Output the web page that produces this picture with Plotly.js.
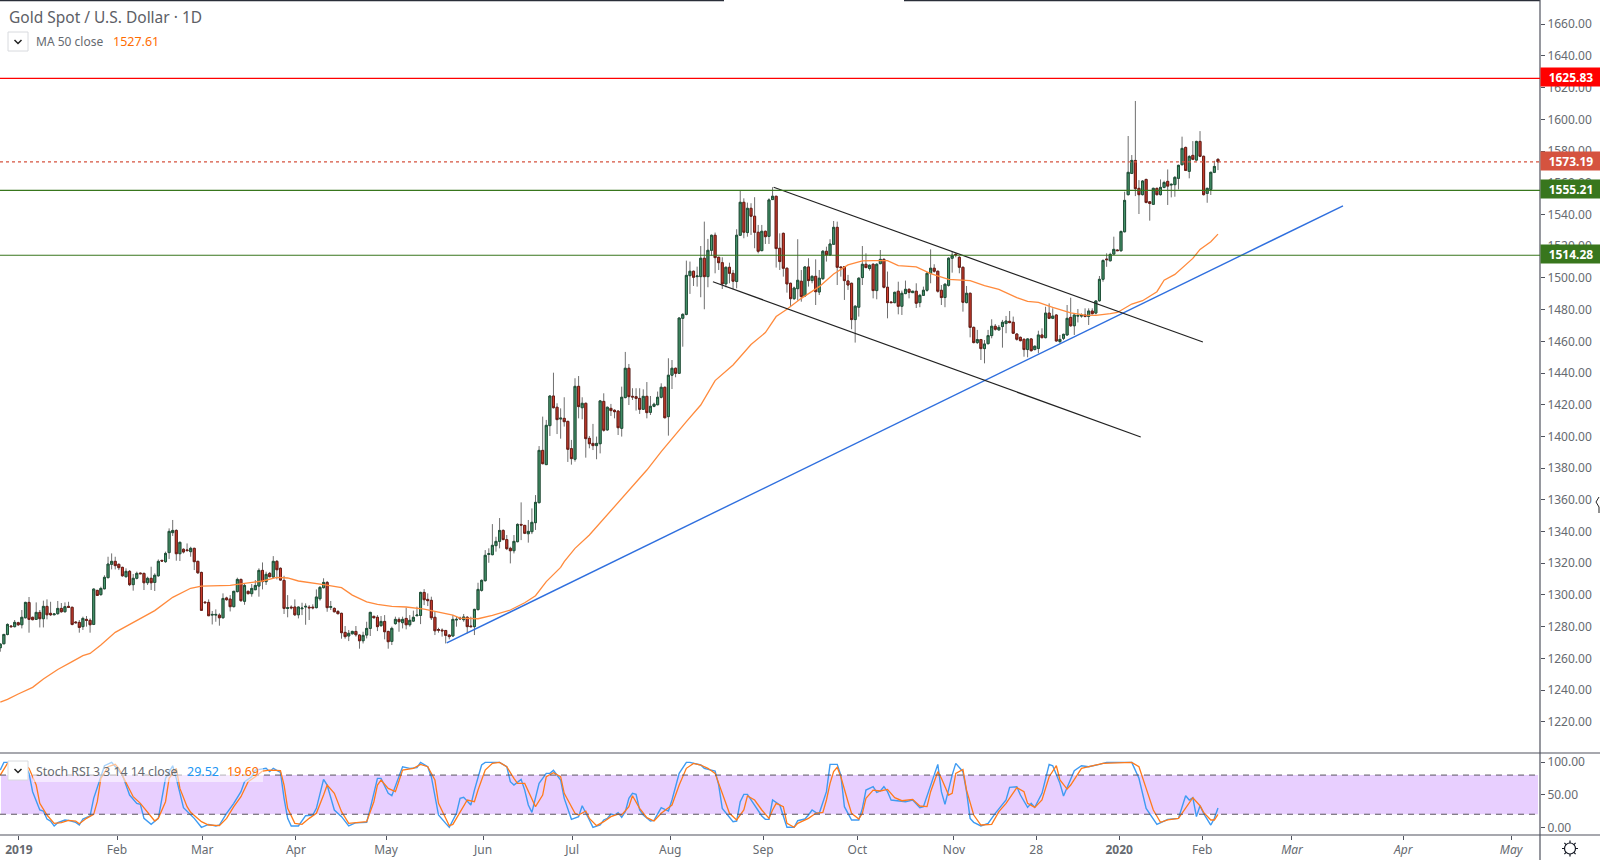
<!DOCTYPE html>
<html>
<head>
<meta charset="utf-8">
<script src="https://cdn.plot.ly/plotly-3.0.1.min.js"></script>
<style>
  html, body { margin: 0; padding: 0; background: #fff; }
  #chart { width: 1600px; height: 860px; }
</style>
</head>
<body>
<div id="chart"></div>
<script>
// daily candles, one entry per bar
const opens = [
  1266.7,1269.2,1275.1,1280.4,1280.0,1282.5,1281.2,1285.6,1295.3,1285.9,
  1284.6,1289.0,1285.0,1292.8,1288.4,1287.5,1288.2,1291.5,1289.4,1292.8,
  1292.2,1282.9,1282.7,1280.0,1284.6,1284.0,1281.4,1302.9,1300.2,1303.9,
  1310.9,1319.3,1321.2,1319.3,1317.4,1311.5,1314.9,1306.5,1310.5,1313.8,
  1313.6,1307.7,1310.5,1307.9,1312.1,1321.8,1321.0,1326.7,1339.3,1340.7,
  1326.0,1328.8,1328.4,1327.3,1329.4,1321.2,1314.2,1295.5,1295.3,1287.3,
  1287.3,1287.3,1285.6,1298.1,1297.4,1292.6,1302.1,1309.8,1296.0,1302.3,
  1300.8,1303.3,1305.6,1315.5,1308.4,1313.6,1311.3,1321.2,1316.8,1309.2,
  1291.5,1292.3,1292.4,1287.5,1291.3,1292.4,1292.3,1292.3,1292.0,1297.6,
  1304.6,1307.9,1292.2,1291.5,1289.6,1288.4,1276.4,1274.1,1275.5,1277.0,
  1274.7,1271.1,1274.7,1278.9,1286.5,1285.9,1280.6,1283.3,1277.0,1270.7,
  1281.9,1284.6,1282.5,1285.2,1281.2,1283.5,1286.9,1287.1,1301.6,1297.2,
  1296.6,1285.9,1278.2,1277.8,1277.6,1274.7,1274.1,1284.2,1285.4,1284.4,
  1285.9,1280.4,1280.0,1290.7,1302.9,1309.0,1325.6,1325.4,1331.1,1333.8,
  1340.7,1334.9,1329.4,1327.9,1333.6,1344.5,1343.9,1338.6,1339.9,1345.6,
  1358.2,1391.2,1382.2,1406.8,1425.5,1418.4,1411.0,1411.4,1409.5,1392.3,
  1385.6,1431.6,1418.1,1420.9,1398.8,1395.6,1394.2,1395.4,1422.1,1404.1,
  1417.7,1416.5,1416.0,1405.1,1424.5,1443.0,1425.3,1425.1,1424.0,1417.1,
  1425.3,1415.2,1419.0,1420.0,1424.7,1431.0,1412.5,1438.6,1443.0,1439.8,
  1474.5,1477.0,1501.4,1504.2,1500.8,1500.8,1512.4,1500.8,1517.4,1526.9,
  1513.0,1509.6,1496.2,1506.7,1502.9,1497.7,1526.9,1547.7,1528.6,1543.9,
  1538.9,1528.8,1517.2,1529.4,1526.2,1549.4,1551.5,1518.7,1528.1,1506.1,
  1496.6,1486.9,1493.2,1497.9,1488.6,1506.9,1498.3,1501.0,1491.1,1499.5,
  1516.8,1514.5,1521.2,1531.9,1506.9,1507.1,1498.1,1496.6,1473.7,1481.5,
  1500.2,1508.6,1505.9,1508.6,1492.0,1509.0,1511.7,1494.1,1484.8,1484.4,
  1491.6,1482.1,1490.1,1492.8,1490.7,1491.6,1484.4,1489.0,1492.2,1502.9,
  1506.1,1504.2,1492.2,1487.6,1495.3,1512.4,1514.9,1513.0,1506.7,1484.4,
  1490.3,1468.8,1459.2,1461.1,1455.4,1458.5,1463.6,1469.5,1467.2,1469.3,
  1471.2,1472.6,1472.0,1464.6,1462.5,1461.3,1454.8,1461.5,1454.8,1455.5,
  1464.0,1462.3,1477.8,1474.5,1476.6,1459.8,1461.9,1464.0,1475.1,1469.8,
  1475.9,1475.9,1476.6,1475.7,1479.1,1477.8,1485.6,1499.1,1511.9,1510.8,
  1515.0,1517.6,1517.1,1529.1,1552.5,1565.9,1574.1,1556.5,1552.5,1562.1,
  1548.0,1546.4,1556.5,1552.5,1557.1,1560.9,1558.6,1558.8,1562.8,1571.4,
  1582.3,1567.2,1577.3,1574.3,1586.1,1576.7,1553.3,1555.8,1566.6,1574.8
];
const highs = [
  1269.4,1275.3,1282.1,1281.0,1284.2,1283.1,1290.5,1295.7,1298.7,1286.3,
  1295.3,1290.5,1296.4,1297.2,1295.7,1288.2,1296.2,1294.9,1295.3,1295.7,
  1292.6,1283.5,1284.2,1286.3,1286.7,1285.2,1304.1,1303.1,1305.2,1312.4,
  1324.1,1326.2,1324.1,1319.9,1317.8,1316.8,1315.7,1313.2,1314.7,1314.0,
  1314.0,1311.5,1317.8,1313.6,1322.4,1322.2,1327.3,1342.0,1347.3,1341.4,
  1333.6,1329.4,1332.5,1330.4,1329.8,1321.6,1314.7,1295.7,1297.2,1289.9,
  1290.9,1288.4,1301.0,1298.9,1299.9,1302.5,1310.9,1310.3,1306.9,1302.7,
  1306.9,1309.4,1316.8,1320.5,1314.7,1314.5,1324.5,1322.0,1317.4,1312.1,
  1299.9,1293.4,1297.2,1292.6,1295.1,1294.7,1293.6,1294.1,1303.5,1305.6,
  1310.5,1308.8,1296.2,1292.2,1290.5,1288.8,1280.4,1277.9,1277.4,1280.4,
  1275.1,1276.8,1283.1,1289.4,1286.9,1287.3,1286.7,1287.3,1277.4,1280.0,
  1286.3,1285.9,1286.3,1292.0,1287.3,1290.1,1292.6,1302.0,1303.7,1301.0,
  1298.9,1289.4,1279.3,1278.9,1277.9,1275.1,1287.3,1286.3,1286.3,1288.0,
  1286.7,1286.3,1291.3,1307.7,1309.8,1328.3,1329.4,1344.7,1336.7,1348.5,
  1341.4,1337.8,1330.4,1337.8,1345.2,1358.4,1344.1,1347.3,1354.6,1363.0,
  1393.9,1412.5,1410.4,1425.9,1440.2,1420.9,1417.7,1424.7,1409.9,1397.8,
  1436.7,1438.1,1424.7,1421.3,1400.3,1407.9,1399.9,1423.0,1427.2,1418.8,
  1420.5,1417.1,1416.5,1431.4,1453.3,1445.7,1430.4,1430.4,1430.4,1429.7,
  1434.3,1425.5,1421.3,1428.3,1433.5,1431.4,1449.3,1448.2,1443.4,1475.1,
  1477.7,1510.9,1510.3,1504.6,1507.1,1520.1,1535.5,1524.6,1527.3,1528.6,
  1513.4,1513.0,1507.1,1509.6,1505.0,1530.7,1555.1,1550.2,1547.5,1547.1,
  1550.9,1533.4,1533.4,1529.8,1550.2,1557.2,1551.7,1528.1,1528.6,1506.5,
  1497.0,1494.5,1524.4,1505.0,1507.5,1512.4,1501.6,1511.7,1505.0,1517.6,
  1519.7,1524.4,1535.9,1535.5,1507.1,1507.5,1501.9,1497.0,1482.9,1500.4,
  1520.1,1515.5,1508.4,1509.2,1509.2,1517.6,1512.4,1504.0,1485.0,1491.3,
  1497.6,1492.0,1498.3,1493.4,1491.8,1496.6,1489.9,1494.5,1503.7,1518.0,
  1508.6,1504.6,1495.5,1496.6,1513.0,1516.6,1515.5,1513.8,1507.1,1494.9,
  1490.7,1469.3,1467.2,1461.5,1460.8,1467.2,1473.9,1470.9,1470.3,1473.5,
  1476.0,1479.1,1475.6,1465.1,1463.0,1461.7,1461.9,1461.9,1457.3,1466.7,
  1468.2,1481.8,1483.9,1480.8,1477.0,1464.0,1464.8,1482.9,1487.5,1477.0,
  1480.4,1477.6,1480.8,1480.8,1480.8,1486.0,1501.2,1511.7,1515.5,1515.9,
  1526.0,1517.8,1529.8,1554.4,1589.5,1577.5,1611.6,1561.7,1561.7,1562.6,
  1548.5,1556.9,1556.9,1562.1,1561.3,1568.4,1559.6,1564.2,1571.4,1589.1,
  1582.8,1577.5,1586.3,1586.5,1592.6,1577.1,1556.9,1567.0,1573.9,1575.4
];
const lows = [
  1264.2,1269.0,1274.5,1279.3,1279.5,1280.4,1278.9,1285.2,1276.2,1284.0,
  1284.2,1279.5,1279.5,1284.6,1286.7,1287.3,1287.5,1288.8,1289.0,1292.0,
  1280.8,1281.9,1276.2,1277.9,1280.0,1276.2,1281.0,1299.5,1299.5,1303.5,
  1310.5,1316.1,1316.1,1315.7,1311.5,1311.1,1305.6,1302.7,1309.8,1313.2,
  1303.1,1306.3,1303.1,1302.5,1311.5,1321.0,1320.3,1322.7,1337.2,1321.6,
  1321.4,1326.2,1327.3,1324.1,1315.7,1313.2,1289.9,1294.9,1286.7,1281.4,
  1283.1,1280.6,1285.2,1296.4,1289.6,1292.2,1301.6,1295.7,1293.8,1300.4,
  1298.9,1303.1,1298.9,1303.5,1306.3,1311.1,1310.9,1309.8,1309.0,1288.0,
  1285.9,1290.9,1286.7,1285.2,1287.3,1281.2,1284.2,1290.9,1291.5,1296.4,
  1304.1,1289.4,1290.5,1289.0,1287.7,1272.4,1272.4,1270.9,1275.1,1273.7,
  1266.1,1269.4,1272.6,1274.1,1285.2,1277.2,1280.0,1272.0,1266.1,1268.4,
  1281.2,1276.8,1278.9,1278.3,1280.0,1283.1,1286.7,1281.6,1293.6,1293.0,
  1284.2,1274.7,1276.2,1273.7,1269.4,1272.0,1273.7,1280.0,1284.2,1283.1,
  1275.8,1279.5,1274.7,1290.5,1302.1,1308.4,1320.3,1325.0,1327.3,1329.4,
  1334.6,1328.3,1319.9,1326.2,1333.2,1334.6,1338.4,1333.0,1338.4,1341.0,
  1357.8,1382.4,1382.0,1400.3,1417.7,1401.5,1398.6,1406.2,1383.9,1382.2,
  1384.1,1411.4,1410.8,1386.6,1392.5,1391.4,1385.6,1389.3,1403.0,1403.6,
  1412.9,1411.4,1400.9,1399.9,1424.0,1419.8,1423.0,1416.3,1414.2,1416.7,
  1411.4,1413.5,1418.4,1419.6,1424.0,1411.4,1400.5,1429.9,1437.3,1439.4,
  1456.6,1476.4,1489.9,1494.9,1494.5,1487.8,1480.2,1494.1,1513.9,1502.9,
  1505.0,1493.0,1494.1,1496.6,1492.8,1493.4,1526.5,1525.0,1526.0,1527.1,
  1518.7,1515.5,1516.8,1521.4,1521.4,1549.2,1506.5,1505.0,1500.8,1490.7,
  1482.3,1486.1,1485.7,1485.0,1488.2,1494.5,1496.6,1482.9,1489.2,1498.7,
  1510.3,1513.8,1520.8,1495.5,1500.8,1486.1,1492.4,1467.6,1459.2,1475.6,
  1495.5,1506.1,1504.6,1487.1,1486.5,1508.6,1493.4,1474.5,1484.2,1484.0,
  1477.0,1476.6,1489.7,1487.1,1490.5,1481.0,1481.5,1488.6,1491.3,1496.6,
  1503.3,1490.7,1482.9,1481.5,1494.5,1503.3,1513.0,1502.9,1478.7,1484.0,
  1462.5,1458.7,1458.3,1448.2,1446.1,1458.1,1461.9,1466.7,1466.7,1456.0,
  1465.1,1471.4,1464.6,1460.4,1460.0,1450.3,1449.9,1453.5,1454.3,1452.4,
  1461.9,1461.9,1474.0,1474.0,1459.8,1458.7,1460.8,1463.5,1469.2,1464.0,
  1471.9,1474.9,1475.1,1470.3,1477.0,1477.0,1485.0,1497.6,1507.0,1510.4,
  1514.6,1517.0,1516.7,1528.7,1552.0,1565.5,1551.6,1540.3,1552.0,1547.0,
  1536.1,1546.0,1552.0,1552.0,1556.5,1546.0,1550.8,1551.2,1555.8,1571.0,
  1567.4,1562.8,1574.3,1573.9,1576.2,1552.0,1547.4,1552.3,1566.1,1568.0
];
const closes = [
  1269.0,1275.1,1281.4,1280.0,1282.7,1281.2,1285.9,1295.3,1284.6,1284.4,
  1289.0,1285.0,1292.8,1287.5,1287.5,1288.0,1291.5,1289.4,1292.6,1292.2,
  1281.4,1282.5,1279.5,1285.2,1284.0,1281.2,1303.7,1299.7,1304.1,1311.1,
  1319.5,1321.2,1318.5,1317.2,1312.1,1314.9,1306.5,1310.5,1313.6,1313.4,
  1307.7,1310.5,1307.7,1312.4,1321.2,1321.4,1326.2,1340.1,1340.7,1326.0,
  1333.2,1327.1,1328.0,1329.4,1321.0,1314.0,1290.3,1295.1,1286.9,1287.7,
  1287.7,1285.6,1297.8,1297.0,1292.6,1302.3,1309.8,1296.4,1306.0,1300.8,
  1304.1,1306.0,1315.5,1308.4,1313.0,1311.5,1321.2,1315.9,1309.4,1291.5,
  1291.9,1291.9,1287.5,1292.4,1291.7,1292.8,1291.9,1291.9,1298.7,1304.8,
  1307.9,1292.0,1292.6,1289.4,1288.2,1276.2,1273.7,1275.8,1277.0,1274.9,
  1271.1,1274.5,1278.9,1289.0,1285.6,1280.0,1283.3,1276.8,1270.5,1278.9,
  1284.6,1283.1,1284.6,1281.2,1284.0,1285.9,1287.3,1301.6,1297.0,1296.4,
  1285.6,1277.4,1277.8,1277.4,1274.5,1273.7,1284.6,1284.6,1285.0,1286.1,
  1280.0,1280.0,1290.9,1303.5,1309.2,1325.0,1326.0,1331.3,1333.8,1340.7,
  1334.9,1329.2,1327.9,1333.8,1344.5,1344.1,1338.9,1340.1,1345.8,1358.4,
  1391.2,1382.8,1407.0,1425.5,1418.1,1410.6,1411.5,1409.3,1391.9,1386.0,
  1431.6,1418.8,1420.9,1398.6,1395.4,1394.2,1395.6,1422.4,1403.9,1418.4,
  1416.3,1415.6,1405.5,1424.7,1443.0,1425.1,1424.9,1424.0,1417.1,1425.3,
  1415.0,1419.0,1420.3,1424.7,1431.0,1411.8,1438.6,1443.0,1439.8,1474.7,
  1477.0,1501.6,1504.2,1500.4,1501.2,1512.4,1500.8,1517.4,1526.9,1512.8,
  1509.6,1496.2,1506.7,1502.9,1497.9,1526.9,1547.7,1528.8,1543.9,1538.9,
  1528.8,1516.8,1529.4,1526.0,1549.2,1551.5,1518.5,1510.3,1506.1,1496.2,
  1486.9,1493.6,1498.5,1488.2,1506.9,1498.3,1501.0,1491.3,1499.8,1516.8,
  1514.5,1521.4,1531.9,1506.7,1506.5,1498.3,1495.5,1473.7,1482.1,1499.8,
  1508.6,1506.5,1508.0,1492.0,1508.6,1511.7,1494.1,1484.4,1484.4,1490.9,
  1482.1,1490.3,1492.8,1490.9,1491.6,1484.0,1489.0,1492.2,1502.9,1506.1,
  1504.2,1491.6,1487.6,1496.0,1512.4,1514.3,1514.5,1506.7,1484.6,1490.3,
  1468.8,1459.2,1461.1,1455.4,1458.3,1463.6,1469.5,1467.6,1468.8,1472.0,
  1472.8,1471.8,1465.1,1461.3,1460.4,1454.8,1461.5,1454.1,1456.9,1464.0,
  1462.3,1477.8,1474.5,1475.9,1460.2,1461.2,1464.4,1474.5,1469.8,1476.6,
  1476.3,1476.3,1475.7,1479.1,1477.4,1485.4,1499.1,1511.0,1511.5,1514.8,
  1518.0,1517.2,1529.3,1548.9,1566.6,1574.1,1556.3,1552.5,1561.1,1547.6,
  1547.0,1556.5,1552.5,1557.1,1560.2,1557.9,1559.0,1563.4,1571.0,1581.7,
  1567.8,1576.6,1574.8,1586.1,1576.7,1552.5,1556.5,1566.6,1570.3,1573.19
];

// MA 50, read at the bars listed in maBars
const maBars = [0,2,5,9,12,16,20,23,25,28,32,37,43,48,53,56,59,64,68,73,77,80,83,86,90,95,98,102,105,109,113,118,122,126,128,133,137,142,146,149,152,156,157,160,164,180,184,187,191,195,199,204,206,209,213,216,219,223,228,232,236,240,243,247,250,255,259,264,270,274,278,283,286,289,293,298,302,305,309,311,315,318,322,324,327,332,334,337,339];
const maValues = [1232.4,1234.1,1237.5,1241.7,1247,1253,1257.9,1261.7,1263.1,1268.4,1276.4,1282.5,1290.1,1298.5,1304.2,1305.6,1305.6,1306,1307.3,1308.8,1311.1,1310.7,1308.8,1307.9,1306.5,1304.6,1299.9,1295.7,1294.1,1292.8,1292.4,1291.1,1289.4,1287.3,1285.4,1285,1287.1,1290.5,1295.1,1299.5,1308.4,1317.4,1321,1329.4,1337.8,1378.8,1390.4,1398.8,1409.3,1419.8,1435.2,1445.1,1450,1458,1465.5,1475.6,1480.2,1487.1,1494.5,1502.5,1508.2,1510.7,1510.9,1510.9,1507.7,1506.9,1502.7,1499.1,1498.3,1495.1,1492.8,1487.6,1485.2,1484.5,1481.4,1478,1476.5,1476.3,1477.4,1478.2,1483.5,1485.6,1491.3,1498.6,1502.2,1512.3,1518,1522.8,1527.61];

// Stoch RSI, turning points of each line
const kBars = [0,1,2,4,6,7,8,9,11,12,13,14,15,16,18,19,21,22,23,25,26,28,29,31,32,34,36,38,39,40,42,44,45,46,48,49,51,52,54,56,58,60,61,63,65,67,68,70,71,74,75,76,78,79,80,81,83,85,87,88,90,91,93,95,97,99,102,103,105,106,108,109,111,112,114,116,117,119,120,121,122,124,125,127,128,129,131,132,134,135,139,141,142,143,145,146,147,148,150,152,153,154,156,157,159,161,162,164,165,167,168,169,170,171,172,173,174,175,176,177,178,179,181,182,184,186,187,189,191,192,195,196,199,200,201,204,205,206,207,208,210,212,213,214,215,217,219,221,222,224,225,226,227,228,230,231,233,234,235,237,239,240,241,243,244,245,246,247,248,250,252,254,256,257,259,260,261,262,263,265,266,268,269,270,271,273,275,277,279,280,281,283,284,286,287,288,290,292,293,295,296,298,299,301,303,306,308,315,317,319,322,324,325,328,330,331,332,333,334,335,337,338,339];
const kValues = [87.7,99.4,99.4,99,98,95,82.6,54.5,26.5,25,12.7,9.6,1.9,7,11.2,10.6,7.6,3.5,12.7,17.3,44.3,77.5,94.3,99.4,92.8,80,49.4,36.7,35.1,13.7,4.5,13.7,44.3,75,94.3,75,30,24.9,13.7,0,4.5,2,3.5,21.4,36.7,54.5,69.8,77.5,87.7,90.3,85.2,90.3,84.1,44.3,13.7,2,2,17.8,18.8,29,73.4,64.7,26.5,16.3,2,7,7.6,29,75,75,52,48.4,80,92.8,90.3,91.3,99.4,92.8,77.5,49.4,18.8,6,0,21.4,44.3,45.9,34.1,57,95.4,99.4,99.4,92.8,69.8,64.7,73.4,57,34.1,22.9,67.3,82.6,82.6,87.2,72.4,44.3,12.2,16.3,33.1,11.2,0,3.5,11.2,13.7,20.3,18.8,22.4,15.2,23.9,44.3,52,50.4,26.5,18.8,9.6,10.6,30,24.9,41.8,82.6,99.4,99.4,95.4,90.3,86.2,64.7,29,8.6,9.6,39.2,50.4,50.4,34.1,17.3,12.2,12.2,41.8,34.1,0,0,10.1,12.7,18.8,26.5,22.9,21.4,54.5,96.4,96.4,80,31.6,11.2,11.2,29,57,62.2,53.5,55.6,62.2,54.5,41.8,40.7,39.2,41.8,30,31.6,64.7,82.6,96.4,54.5,35.1,80,97.9,85.2,54.5,13.7,7.6,2,6,21.4,34.1,41.8,61.2,62.2,49.4,30.5,36.7,30.5,52,96.4,94.3,67.3,47.9,75,86.7,94.3,92.8,96.4,99.4,99.4,75,29,4.5,9.6,12.2,13.7,48.4,41.8,45.3,16.3,33.1,21.4,3.5,13.7,29.52];
const dBars = [0,2,3,5,7,8,10,11,13,15,17,19,21,22,24,26,27,28,30,32,33,35,37,39,41,43,44,46,47,49,50,52,53,56,58,59,61,63,65,67,69,71,73,75,78,79,80,82,84,86,88,90,91,93,95,97,99,102,104,105,106,108,110,111,112,115,117,119,121,122,124,125,126,128,130,132,133,135,137,139,141,143,144,146,148,149,151,152,154,156,157,160,161,163,164,166,168,170,172,173,175,176,178,180,182,184,187,189,191,193,195,197,199,201,203,205,207,208,210,212,214,215,216,218,219,221,222,225,227,229,230,231,232,233,234,236,237,239,240,241,243,245,247,249,251,254,256,258,259,261,262,264,265,266,268,269,271,273,276,278,280,283,285,286,288,290,292,294,295,297,298,301,304,307,315,317,319,321,323,325,328,330,332,334,335,337,338,339];
const dValues = [80,98,99.4,99,95,90.3,64.7,36.7,18.8,6,7,10.6,9.6,5.5,13.7,19.8,39.2,75,92.8,96.4,90.3,69.8,46.9,36.7,23.9,9.6,13.7,39.2,75,90.3,59.6,31.6,22.9,8.6,3.5,3.5,2.5,13.7,31.6,46.9,69.8,77.5,86.2,87.7,86.7,64.7,29,6,4.5,13.7,21.4,49.4,64.7,52,23.9,6,7,8.6,39.2,64.7,72.4,59.6,54.5,69.8,87.7,90.3,96.4,92.8,72.4,36.7,13.7,2.5,4.5,23.9,41.8,39.2,57,87.7,97.9,99.4,92.8,75,67.3,67.3,44.3,31.6,49.4,77.5,83.6,77.5,52,21.4,18.8,24.9,13.7,2.5,8.6,16.3,20.3,18.8,31.6,48.4,29,14.7,9.6,21.4,34.1,64.7,90.3,97.9,95.4,90.3,82.6,52,21.4,11.2,26.5,47.9,41.8,26.5,13.7,26.5,36.7,31.6,6,0,6,13.7,21.4,22.9,41.8,67.3,85.2,91.8,77.5,39.2,21.4,12.7,21.4,44.3,57,55.6,58.1,45.3,40.7,42.8,32.6,31.6,54.5,85.2,75,49.4,52,82.6,88.7,57,18.8,3.5,4.5,23.9,36.7,60.7,54.5,36.7,30.5,41.8,77.5,94.3,72.4,58.6,64.7,90.3,93.8,97.9,99.4,92.8,59.6,26.5,7.6,11.2,13.7,29,45.3,33.1,22.9,11.2,11.2,19.69];

// drawn lines, in bars and price
const trendBars = [124.3, 373.8];
const trendPrices = [1269.7, 1545.5];
const channelTopBars = [215.3, 334.8];
const channelTopPrices = [1557.2, 1459.6];
const channelLowBars = [198.4, 317.5];
const channelLowPrices = [1497.6, 1399.6];

const levelPrices = [1625.83, 1573.19, 1555.21, 1514.28];
const levelColors = ["#ff0000", "#d5533f", "#38761d", "#38761d"];

const monthBars = [5.2,32.5,56.2,82.3,107.4,134.4,159.2,186.5,212.4,238.6,265.5,288.4,311.5,334.6,359.6,390.6,420.6];
const monthLabels = ["<b>2019</b>","Feb","Mar","Apr","May","Jun","Jul","Aug","Sep","Oct","Nov","28","<b>2020</b>","Feb","<i>Mar</i>","<i>Apr</i>","<i>May</i>"];
const priceTicks = [1220,1240,1260,1280,1300,1320,1340,1360,1380,1400,1420,1440,1460,1480,1500,1520,1540,1560,1580,1600,1620,1640,1660];
const stochTicks = [0, 50, 100];

const FONT = "Noto Sans, sans-serif";
const AXIS = "#50535e";
const TEXT = "#666a70";

// page pixels to paper coordinates (plot area is 1540 x 835)
const px = (x) => x / 1540;
const py = (y) => (835 - y) / 835;

const bars = opens.map((_, i) => i);

const wicks = {
  type: "candlestick",
  x: bars, open: opens, high: highs, low: lows, close: closes,
  xaxis: "x", yaxis: "y",
  increasing: { line: { color: "#6f6f6f", width: 1 }, fillcolor: "#4a9a70" },
  decreasing: { line: { color: "#6f6f6f", width: 1 }, fillcolor: "#cf3f2f" },
  whiskerwidth: 0,
  showlegend: false,
};
// second pass for the dark body outline, no wicks
const bodies = {
  type: "candlestick",
  x: bars, open: opens, close: closes,
  high: opens.map((o, i) => Math.max(o, closes[i])),
  low: opens.map((o, i) => Math.min(o, closes[i])),
  xaxis: "x", yaxis: "y",
  increasing: { line: { color: "#1f5138", width: 1 }, fillcolor: "#4a9a70" },
  decreasing: { line: { color: "#6b1d16", width: 1 }, fillcolor: "#cf3f2f" },
  whiskerwidth: 0,
  showlegend: false,
};

const line = (x, y, color, width, yaxis) => ({
  type: "scatter", mode: "lines", x, y,
  xaxis: "x", yaxis: yaxis || "y",
  line: { color, width },
  showlegend: false,
});

const traces = [
  wicks,
  bodies,
  line(maBars, maValues, "#ff8a3c", 1.3),
  line(trendBars, trendPrices, "#2f6fde", 1.4),
  line(channelTopBars, channelTopPrices, "#222222", 1.2),
  line(channelLowBars, channelLowPrices, "#222222", 1.2),
  line(kBars, kValues, "#3f9bf2", 1.4, "y2"),
  line(dBars, dValues, "#ff7a1a", 1.3, "y2"),
];

const paperLine = (x0, y0, x1, y1, color, width) => ({
  type: "line", xref: "paper", yref: "paper",
  x0: px(x0), x1: px(x1), y0: py(y0), y1: py(y1),
  line: { color, width },
});

const box = (x0, y0, x1, y1) => ({
  type: "rect", xref: "paper", yref: "paper",
  x0: px(x0), x1: px(x1), y0: py(y0), y1: py(y1),
  fillcolor: "#ffffff", line: { color: "#d8dade", width: 1 },
});

const chevron = (cx, cy) => ({
  type: "path", xref: "paper", yref: "paper",
  path: `M ${px(cx - 3.5)} ${py(cy - 1.5)} L ${px(cx)} ${py(cy + 2)} L ${px(cx + 3.5)} ${py(cy - 1.5)}`,
  line: { color: "#222222", width: 1.5 },
});

// settings icon at the bottom right corner
const GEAR_X = 1570, GEAR_Y = 848.5;
const gearPath = [[0, -8, 0, -5.5], [0, 5.5, 0, 8], [-8, 0, -5.5, 0], [5.5, 0, 8, 0],
  [-5.6, -5.6, -3.9, -3.9], [3.9, 3.9, 5.6, 5.6], [-5.6, 5.6, -3.9, 3.9], [3.9, -3.9, 5.6, -5.6]]
  .map(([a, b, c, d]) => `M ${px(GEAR_X + a)} ${py(GEAR_Y + b)} L ${px(GEAR_X + c)} ${py(GEAR_Y + d)}`)
  .join(" ");

const shapes = [
  // stoch band
  { type: "rect", xref: "paper", yref: "y2", x0: px(1), x1: px(1538), y0: 20, y1: 80,
    fillcolor: "#e8cfff", line: { width: 0 }, layer: "below" },
  { type: "line", xref: "paper", yref: "y2", x0: 0, x1: 1, y0: 80, y1: 80,
    line: { color: "#5a5560", width: 1, dash: "6px,5px" } },
  { type: "line", xref: "paper", yref: "y2", x0: 0, x1: 1, y0: 20, y1: 20,
    line: { color: "#5a5560", width: 1, dash: "6px,5px" } },
  // frame
  paperLine(0, 0.5, 724, 0.5, "#2a2e39", 1.5),
  paperLine(904, 0.5, 1540, 0.5, "#2a2e39", 1.5),
  paperLine(0, 753, 1600, 753, AXIS, 1.2),
  paperLine(0, 835, 1600, 835, AXIS, 1.2),
  paperLine(1540, 0, 1540, 860, AXIS, 1.2),
  // legend buttons and the pale strip behind the stoch text
  { type: "rect", xref: "paper", yref: "paper", x0: px(33), x1: px(263), y0: py(761), y1: py(782),
    fillcolor: "rgba(255,255,255,0.55)", line: { width: 0 } },
  box(8, 32, 28, 51),
  chevron(18, 41.5),
  box(8, 761, 28, 780),
  chevron(18, 770.5),
  // settings icon
  { type: "circle", xref: "paper", yref: "paper",
    x0: px(GEAR_X - 5.5), x1: px(GEAR_X + 5.5), y0: py(GEAR_Y + 5.5), y1: py(GEAR_Y - 5.5),
    line: { color: "#131722", width: 1.2 } },
  { type: "path", xref: "paper", yref: "paper", path: gearPath, line: { color: "#131722", width: 1.2 } },
  // mouse pointer left at the right edge of the price scale
  { type: "path", xref: "paper", yref: "paper",
    path: `M ${px(1599)} ${py(497)} L ${px(1596)} ${py(502)} L ${px(1599)} ${py(507)} L ${px(1599)} ${py(513)}`,
    line: { color: "#222222", width: 1 } },
];

levelPrices.forEach((price, i) => {
  shapes.push({
    type: "line", xref: "paper", yref: "y", x0: 0, x1: 1, y0: price, y1: price,
    line: { color: levelColors[i], width: 1.2, dash: i === 1 ? "dot" : "solid" },
  });
});

const label = (x, y, text, size, color) => ({
  xref: "paper", yref: "paper", x: px(x), y: py(y),
  xanchor: "left", yanchor: "middle",
  text, showarrow: false,
  font: { family: FONT, size, color },
});

const annotations = [
  label(7, 17, "Gold Spot / U.S. Dollar · 1D", 15.5, "#5d6066"),
  label(34, 41.5, "MA 50 close", 12, TEXT),
  label(111, 41.5, "1527.61", 12.5, "#ff6d00"),
  label(34, 771, "Stoch RSI 3 3 14 14 close", 12.3, TEXT),
  label(185, 771, "29.52", 12.5, "#2196f3"),
  label(225, 771, "19.69", 12.5, "#ff6d00"),
];

levelPrices.forEach((price, i) => {
  annotations.push({
    xref: "paper", yref: "y", x: 1, y: price, yshift: 1,
    xanchor: "left", yanchor: "middle",
    text: `<b>${price.toFixed(2)}</b>`,
    showarrow: false, width: 60, height: 18, align: "center",
    borderpad: 0, bgcolor: levelColors[i],
    font: { family: FONT, size: 12, color: "#ffffff" },
  });
});

const layout = {
  width: 1600,
  height: 860,
  margin: { l: 0, r: 60, t: 0, b: 25, pad: 0 },
  paper_bgcolor: "#ffffff",
  plot_bgcolor: "#ffffff",
  font: { family: FONT, size: 12, color: TEXT },
  showlegend: false,
  boxgap: 0.2,
  xaxis: {
    type: "linear",
    range: [-0.08, 428.65],
    anchor: "y2",
    rangeslider: { visible: false },
    showgrid: false,
    zeroline: false,
    showline: false,
    tickmode: "array",
    tickvals: monthBars,
    ticktext: monthLabels,
    ticks: "outside",
    ticklen: 4,
    tickcolor: AXIS,
    tickfont: { family: FONT, size: 12, color: TEXT },
  },
  yaxis: {
    domain: [82 / 835, 1],
    range: [1200.3, 1675.3],
    side: "right",
    anchor: "x",
    showgrid: false,
    zeroline: false,
    showline: false,
    tickmode: "array",
    tickvals: priceTicks,
    tickformat: ".2f",
    ticks: "outside",
    ticklen: 4,
    tickcolor: AXIS,
    tickfont: { family: FONT, size: 12, color: TEXT },
  },
  yaxis2: {
    domain: [0, 82 / 835],
    range: [-11.8, 113.8],
    side: "right",
    anchor: "x",
    showgrid: false,
    zeroline: false,
    showline: false,
    tickmode: "array",
    tickvals: stochTicks,
    tickformat: ".2f",
    ticks: "outside",
    ticklen: 4,
    tickcolor: AXIS,
    tickfont: { family: FONT, size: 12, color: TEXT },
  },
  shapes,
  annotations,
};

Plotly.newPlot("chart", traces, layout, { displayModeBar: false, staticPlot: true });
</script>
</body>
</html>
